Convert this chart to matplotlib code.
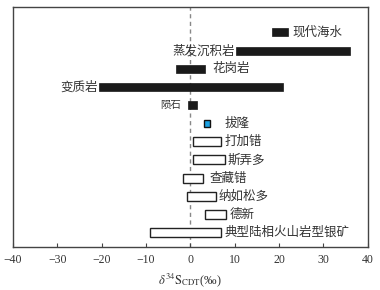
import matplotlib
matplotlib.use('Agg')
import matplotlib.pyplot as plt

plt.rcParams['mathtext.fontset'] = 'stix'

# delta34S ranges (per mil)
names = ['现代海水', '蒸发沉积岩', '花岗岩', '变质岩', '陨石', '拔隆',
         '打加错', '斯弄多', '查藏错', '纳如松多', '德新', '典型陆相火山岩型银矿']
lows = [18.5, 10.3, -3.2, -20.5, -0.6, 3.0, 0.5, 0.7, -1.7, -0.7, 3.4, -9.1]
highs = [22.1, 36.0, 3.3, 20.8, 1.5, 4.5, 7.0, 7.9, 2.9, 5.8, 8.0, 6.9]
kinds = ['ref', 'ref', 'ref', 'ref', 'ref', 'this',
         'dep', 'dep', 'dep', 'dep', 'dep', 'dep']
label_left = ['蒸发沉积岩', '变质岩', '陨石']

xticks = [-40, -30, -20, -10, 0, 10, 20, 30, 40]

fig = plt.figure(figsize=(3.8, 2.9), dpi=100)
ax = fig.add_axes([0.034, 0.148, 0.934, 0.828])

# label gaps in pixels -> points
gap = {'现代海水': 4, '蒸发沉积岩': 1, '花岗岩': 7, '变质岩': 2, '陨石': 7,
       '拔隆': 14, '打加错': 3, '斯弄多': 2, '查藏错': 6, '纳如松多': 2,
       '德新': 4, '典型陆相火山岩型银矿': 4}

for i, (name, lo, hi, kind) in enumerate(zip(names, lows, highs, kinds)):
    if kind == 'ref':
        ax.barh(i, hi - lo, left=lo, height=0.44, color='#1a1a1a', edgecolor='#1a1a1a', lw=0.5)
    elif kind == 'this':
        ax.barh(i, hi - lo, left=lo, height=0.36, color='#1ba1e2', edgecolor='#111111', lw=1.0)
    else:
        ax.barh(i, hi - lo, left=lo, height=0.5, color='white', edgecolor='#222222', lw=1.0)

    fs = 7.5 if name == '陨石' else 9
    off = gap[name] * 72 / 100
    if name in label_left:
        ax.annotate(name, (lo, i), xytext=(-off, 0), textcoords='offset points',
                    ha='right', va='center', fontsize=fs, color='#333333',
                    family=['Noto Sans CJK SC', 'DejaVu Sans'])
    else:
        ax.annotate(name, (hi, i), xytext=(off, 0), textcoords='offset points',
                    ha='left', va='center', fontsize=fs, color='#333333',
                    family=['Noto Sans CJK SC', 'DejaVu Sans'])

ax.axvline(0, color='#888888', lw=1.0, ls=(0, (3, 2.5)), zorder=0)

ax.set_xlim(-40, 40)
ax.set_ylim(11.79, -1.40)
ax.set_yticks([])
ax.set_xticks(xticks)
ax.set_xticklabels([str(t).replace('-', '\u2212') for t in xticks],
                   family='Liberation Serif', fontsize=8.5, color='#333333')
ax.tick_params(axis='x', direction='in', length=3, width=0.8, color='#444444', pad=5)

for s in ax.spines.values():
    s.set_color('#444444')
    s.set_linewidth(1.0)

ax.set_xlabel(r'$\delta^{34}\mathrm{S}_{\mathrm{CDT}}$(‰)', fontsize=9,
              family='Liberation Serif', color='#333333', labelpad=4)

fig.savefig('out.png', dpi=100)
